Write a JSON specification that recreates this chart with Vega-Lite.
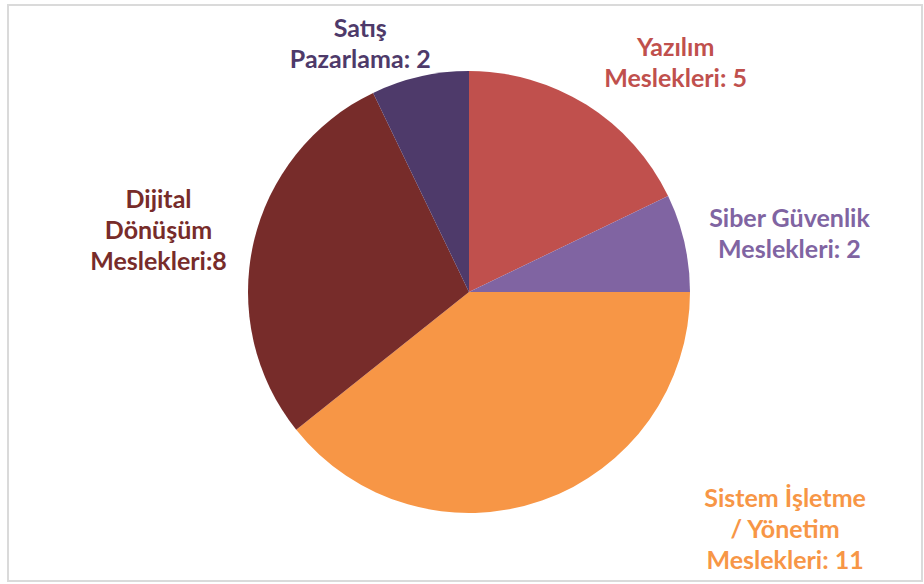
{
  "$schema": "https://vega.github.io/schema/vega-lite/v6.json",
  "autosize": {"type": "fit", "contains": "padding"},
  "width": 924,
  "height": 584,
  "padding": {"left": 8, "top": 5, "right": 2, "bottom": 3},
  "background": "white",
  "view": {"stroke": "#dadada", "strokeWidth": 2},
  "data": {
    "values": [
      {"k": "Yazılım", "label": "Yazılım\nMeslekleri: 5", "n": 5, "sira": 1},
      {"k": "Siber Güvenlik", "label": "Siber Güvenlik\nMeslekleri: 2", "n": 2, "sira": 2},
      {"k": "Sistem İşletme / Yönetim", "label": "Sistem İşletme\n/ Yönetim\nMeslekleri: 11", "n": 11, "sira": 3},
      {"k": "Dijital Dönüşüm", "label": "Dijital\nDönüşüm\nMeslekleri:8", "n": 8, "sira": 4},
      {"k": "Satış Pazarlama", "label": "Satış\nPazarlama: 2", "n": 2, "sira": 5}
    ]
  },
  "encoding": {
    "theta": {"field": "n", "type": "quantitative", "stack": true},
    "order": {"field": "sira", "type": "quantitative"},
    "color": {
      "field": "k",
      "type": "nominal",
      "scale": {
        "domain": ["Yazılım", "Siber Güvenlik", "Sistem İşletme / Yönetim", "Dijital Dönüşüm", "Satış Pazarlama"],
        "range": ["#C0504D", "#8064A2", "#F79646", "#772C2A", "#4E3A6A"]
      },
      "legend": null
    }
  },
  "layer": [
    {
      "mark": {"type": "arc", "radius": 221, "xOffset": 4, "yOffset": -1}
    },
    {
      "mark": {
        "type": "text",
        "radius": 300,
        "font": "Lato",
        "fontWeight": "bold",
        "fontSize": 25,
        "lineBreak": "\n",
        "lineHeight": 31,
        "align": "center",
        "baseline": "middle",
        "dx": {"expr": "datum.k === 'Yazılım' ? 51 : datum.k === 'Siber Güvenlik' ? 32 : datum.k === 'Sistem İşletme / Yönetim' ? 221 : datum.k === 'Dijital Dönüşüm' ? -14 : -38"},
        "dy": {"expr": "datum.k === 'Yazılım' ? 9 : datum.k === 'Siber Güvenlik' ? -7 : datum.k === 'Sistem İşletme / Yönetim' ? -77 : datum.k === 'Dijital Dönüşüm' ? -26 : 28"}
      },
      "encoding": {
        "text": {"field": "label", "type": "nominal"}
      }
    }
  ]
}
